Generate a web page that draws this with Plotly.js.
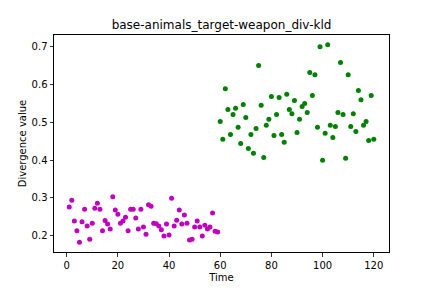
<!DOCTYPE html>
<html><head><meta charset="utf-8">
<script src="https://cdn.plot.ly/plotly-3.0.1.min.js"></script>
<style>html,body{margin:0;padding:0;background:#fff}</style>
</head><body><div id="chart" style="width:432px;height:288px"></div>
<script>
const baseTime = [1,2,3,4,5,6,7,8,9,10,11,12,13,14,15,16,17,18,19,20,21,22,23,24,25,26,27,28,29,30,31,32,33,34,35,36,37,38,39,40,41,42,43,44,45,46,47,48,49,50,51,52,53,54,55,56,57,58,59];
const baseValues = [0.276,0.294,0.239,0.213,0.183,0.237,0.270,0.226,0.191,0.233,0.273,0.286,0.270,0.213,0.240,0.231,0.218,0.303,0.268,0.257,0.233,0.239,0.249,0.213,0.270,0.270,0.247,0.218,0.270,0.223,0.204,0.282,0.278,0.233,0.232,0.226,0.216,0.199,0.231,0.202,0.299,0.226,0.241,0.268,0.231,0.255,0.233,0.189,0.191,0.223,0.239,0.223,0.199,0.228,0.218,0.223,0.260,0.212,0.210];
const targetTime = [60,61,62,63,64,65,66,67,68,69,70,71,72,73,74,75,76,77,78,79,80,81,82,83,84,85,86,87,88,89,90,91,92,93,94,95,96,97,98,99,100,101,102,103,104,105,106,107,108,109,110,111,112,113,114,115,116,117,118,119,120];
const targetValues = [0.502,0.455,0.589,0.534,0.468,0.521,0.537,0.487,0.444,0.547,0.513,0.431,0.468,0.418,0.484,0.650,0.545,0.407,0.492,0.508,0.568,0.465,0.521,0.566,0.468,0.447,0.574,0.534,0.523,0.558,0.473,0.508,0.542,0.550,0.526,0.632,0.571,0.626,0.487,0.700,0.400,0.471,0.705,0.492,0.460,0.489,0.526,0.658,0.521,0.405,0.626,0.489,0.523,0.476,0.584,0.560,0.492,0.502,0.452,0.571,0.455];
const xTicks = [0,20,40,60,80,100,120];
const yTicks = [0.2,0.3,0.4,0.5,0.6,0.7];

const fontFam = 'DejaVu Sans, sans-serif';
const data = [
  {x: baseTime, y: baseValues, type:'scatter', mode:'markers', marker:{color:'#bf00bf', size:5}, showlegend:false},
  {x: targetTime, y: targetValues, type:'scatter', mode:'markers', marker:{color:'#008000', size:5}, showlegend:false}
];
const axisCommon = {showgrid:false, zeroline:false, showline:true, linecolor:'#000', linewidth:1, mirror:true,
  ticks:'outside', ticklen:3.5, tickwidth:0.8, tickcolor:'#000', tickfont:{family:fontFam, size:10, color:'#000'}};
const layout = {
  width:432, height:288,
  margin:{l:54, r:43, t:35, b:36},
  paper_bgcolor:'#fff', plot_bgcolor:'#fff',
  title:{text:'base-animals_target-weapon_div-kld', font:{family:fontFam, size:12, color:'#000'}, x:0.5, xref:'paper', xanchor:'center', y:1, yref:'container', yanchor:'top', pad:{t:21}},
  xaxis:Object.assign({}, axisCommon, {range:[-4.95,125.95], tickvals:xTicks, title:{text:'Time', font:{family:fontFam, size:10, color:'#000'}, standoff:4}}),
  yaxis:Object.assign({}, axisCommon, {range:[0.157,0.731], tickvals:yTicks, tickformat:'.1f', title:{text:'Divergence value', font:{family:fontFam, size:10, color:'#000'}, standoff:3}})
};
Plotly.newPlot('chart', data, layout, {displayModeBar:false, staticPlot:true});
</script></body></html>
